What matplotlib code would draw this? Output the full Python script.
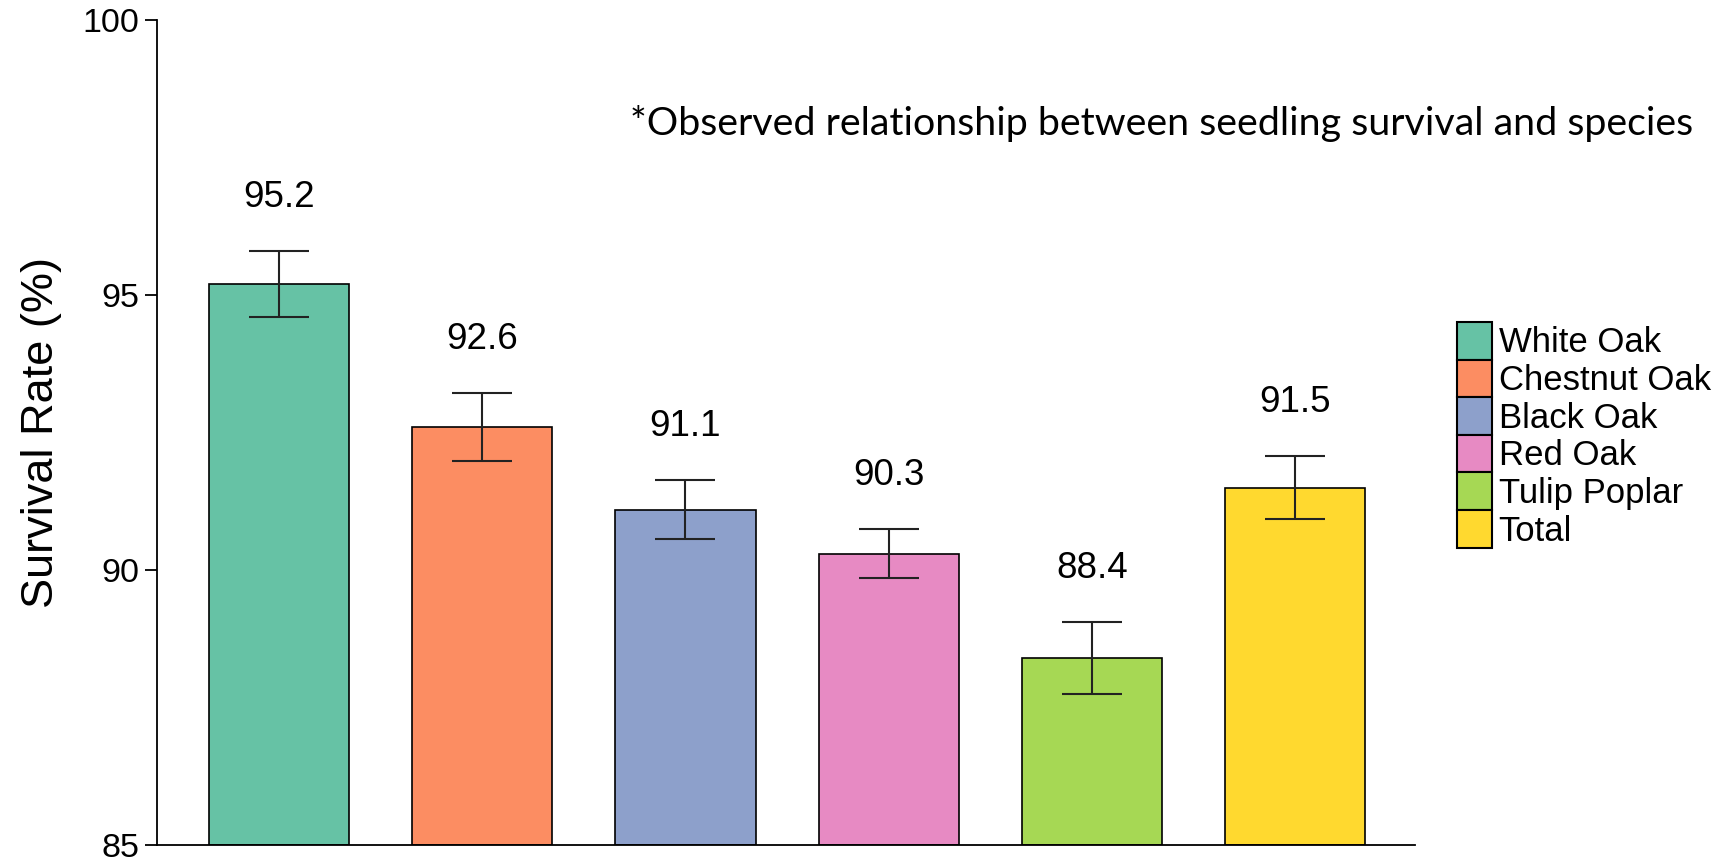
import matplotlib
matplotlib.use("Agg")
import matplotlib.pyplot as plt
from matplotlib.patches import Patch

species = ["White Oak", "Chestnut Oak", "Black Oak", "Red Oak", "Tulip Poplar", "Total"]
survival = [95.2, 92.6, 91.1, 90.3, 88.4, 91.5]
errors = [0.6, 0.62, 0.54, 0.44, 0.66, 0.58]
colors = ["#66c2a5", "#fc8d62", "#8da0cb", "#e78ac3", "#a6d854", "#ffd92f"]
yticks = [85, 90, 95, 100]

plt.rcParams['font.family'] = ['Liberation Sans', 'DejaVu Sans']

fig = plt.figure(figsize=(17.23, 8.66), dpi=100)
ax = fig.add_axes([157/1723, 21/866, (1415-157)/1723, (845-20)/866])

x = list(range(len(species)))
ax.bar(x, [v - 85 for v in survival], bottom=85, width=0.69, color=colors,
       edgecolor="black", linewidth=1.2, zorder=2)
ax.errorbar(x, survival, yerr=errors, fmt="none", ecolor="#222222",
            elinewidth=1.5, capsize=21.6, capthick=1.5, zorder=3)
for xi, v, e in zip(x, survival, errors):
    ax.text(xi, v + e + 0.97, f"{v:.1f}", ha="center", va="center", fontsize=26.5)

ax.set_xlim(-0.6, 5.59)
ax.set_ylim(85, 100)
ax.set_yticks(yticks)
ax.set_yticklabels([str(t) for t in yticks], fontsize=24.5)
ax.set_xticks([])
ax.tick_params(axis="y", length=8.6, width=1.3, pad=4)
for s in ["top", "right"]:
    ax.spines[s].set_visible(False)
for s in ["left", "bottom"]:
    ax.spines[s].set_linewidth(1.3)
ax.set_ylabel("Survival Rate (%)", fontsize=32.5, labelpad=15)

handles = [Patch(facecolor=c, edgecolor="black", linewidth=1.5) for c in colors]
fig.legend(handles, species, loc="upper left", bbox_to_anchor=(1457/1723, 1 - 322/866),
           frameon=False, fontsize=25, handlelength=1.0, handleheight=1.29,
           handletextpad=0.2, labelspacing=0.0, borderpad=0, borderaxespad=0)

fig.text(1693/1723, 1 - 123/866, "*Observed relationship between seedling survival and species",
         ha="right", va="center", fontsize=28.4, family=["Lato", "DejaVu Sans"])

fig.savefig("out.png", dpi=100)
